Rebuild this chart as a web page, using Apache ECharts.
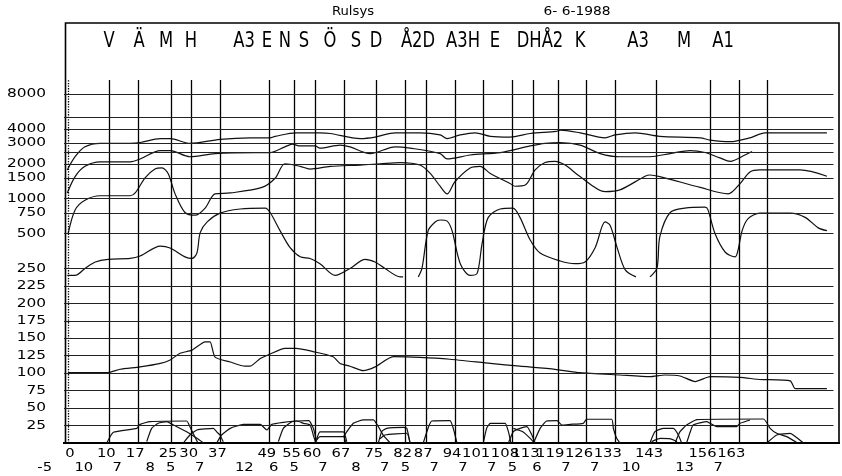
<!DOCTYPE html>
<html>
<head>
<meta charset="utf-8">
<script src="https://cdn.jsdelivr.net/npm/echarts@6/dist/echarts.min.js"></script>
<style>html,body{margin:0;padding:0;background:#fff}#main{width:842px;height:476px}</style>
</head>
<body>
<div id="main"></div>
<script>
// stationsnamn i huvudet
var stations = ['V','Ä','M','H','A3','E','N','S','Ö','S','D','Å2D','A3H','E','DHÅ2','K','A3','M','A1'];
var stationPx = [109,139,166,191,244,267,285,304,330,356,376,418,463,495,540,580,638,684,723];

// lodräta linjer (tid) och tidsskillnad under
var xTicks = [0,10,17,25,30,37,49,55,60,67,75,82,87,94,101,108,113,119,126,133,143,156,163,170];
var xTickLabels = ['0','10','17','25','30','37','49','55','60','67','75','82','87','94','101','108','113','119','126','133','143','156','163',''];
var durations = ['-5','10','7','8','5','7','12','6','5','7','8','7','5','7','7','7','5','6','7','7','10','13','7',''];

// vågräta linjer
var yGrid = [25,50,75,100,125,150,175,200,225,250,500,750,1000,1500,2000,2500,3000,4000,5000,8000];
var yLabels = ['25','50','75','100','125','150','175','200','225','250','500','750','1000','1500','2000','','3000','4000','','8000'];

// kurvor [tid, värde]
var curveA = [[
  [-0.2,1770],[1.7,2300],[4.1,2800],[7.8,3000],[15.1,3000],[17.5,3050],[22.4,3300],[24.8,3300],[29.6,3000],
  [36.9,3250],[44.2,3350],[49.1,3350],[50.3,3450],[55.4,3700],[61.2,3700],[63.7,3650],[71,3300],[74.6,3400],
  [79.5,3700],[85.5,3700],[90.4,3550],[92.1,3300],[95.3,3550],[98.9,3700],[102.6,3450],[107.4,3400],[112.3,3650],
  [118.6,3800],[119.6,3900],[124.4,3700],[130.5,3350],[132.9,3550],[137.8,3700],[143.8,3450],[153.6,3350],
  [156,3200],[160.9,3100],[165.7,3350],[169.4,3700],[175.5,3700],[184.4,3700]
]];
var curveB = [[
  [-0.2,1120],[1.7,1550],[4.1,1900],[7.8,2080],[15.1,2080],[17.5,2200],[22.4,2600],[24.8,2600],[29.6,2300],
  [35.7,2450],[45.4,2500],[49.1,2500],[52.7,2800],[54.5,2950],[56.4,2850],[60,2850],[61.2,2730],[66.1,2900],
  [68.5,2800],[73.4,2450],[79.5,2800],[83.1,2730],[90.4,2450],[92.1,2200],[97.7,2380],[105,2500],[112.3,2850],
  [115.9,3000],[119.6,3050],[124.4,2900],[129.3,2450],[134.1,2300],[141.4,2300],[146.3,2450],[151.2,2600],
  [154.8,2500],[158.4,2250],[160.9,2100],[164.5,2380],[166.2,2550]
]];
var curveC = [[
  [0,500],[1.7,800],[4.1,970],[7.8,1060],[15.1,1060],[16.3,1120],[18.7,1510],[21.1,1800],[22.8,1840],[24.3,1650],
  [26,1100],[28.4,760],[30.9,720],[33.3,830],[35.7,1100],[39.4,1120],[47.1,1250],[50.3,1500],[52.7,2000],
  [56.4,1900],[58.8,1800],[63.7,1900],[71,1950],[75.8,2000],[80.7,2050],[85.5,1950],[88,1650],[90.4,1280],
  [92.1,1100],[94,1400],[97.7,1840],[100.1,1900],[102.6,1650],[107.4,1350],[108.6,1280],[111.1,1310],
  [113.5,1770],[115.9,2050],[118.3,2100],[120.8,1950],[124.4,1550],[130.5,1150],[134.1,1190],[140.2,1560],
  [141.4,1600],[143.8,1550],[153.6,1250],[160.4,1100],[163.3,1350],[165.7,1700],[168.1,1770],[177.9,1770],[184.4,1560]
]];
var curveD = [[
  [-0.2,240],[1.7,240],[4.1,250],[6.6,284],[9.7,300],[15.1,305],[17.5,320],[22.4,390],[24.8,375],[28.4,315],
  [30.1,305],[31.3,340],[32.1,510],[33.8,630],[36.9,750],[41.8,815],[47.9,830],[49.1,760],[51.5,530],[53.9,380],
  [56.4,315],[58.8,305],[61.2,275],[64.9,240],[68.5,250],[72.2,300],[74.6,284],[77,250],[80.7,238],[81.4,238]
],[
  [85.1,238],[86,252],[87.5,530],[89.2,630],[90.4,655],[92.1,640],[93.3,530],[95.3,275],[97.7,240],[99.4,243],
  [100.6,410],[102.1,690],[105,815],[108.1,830],[109.8,690],[112.3,440],[114.7,340],[119.6,290],[123.2,275],
  [125.6,284],[128.1,380],[130.5,630],[131.7,590],[133.4,380],[135.4,248],[138,238]
],[
  [141.4,238],[143.1,252],[143.8,470],[146.3,760],[149.9,830],[154.8,845],[155.5,800],[157.2,500],[159.7,345],
  [162.1,315],[162.8,360],[163.8,530],[165.2,670],[168.1,750],[175.5,750],[179.1,690],[182.3,560],[184.4,530]
]];
var curveE = [[
  [0,101],[9.7,101],[12.6,105.6],[17.5,109],[22.4,114],[24.8,119],[27.2,128.5],[30.1,133],[33.3,145],[34.5,145],
  [35.7,123],[39.4,116],[43,110],[44.2,110],[46.7,121],[49.1,127.5],[52.7,135.6],[55.4,135.6],[59.5,131],
  [64.4,123.6],[66.1,114],[68.5,110],[71.7,103.6],[74.6,109],[79,123.6],[85.5,122.7],[92.8,120],[102.6,114],
  [109.8,110],[118.3,105.6],[124.4,100.7],[134.1,97.4],[141.4,95],[145,97.4],[148.7,96],[152.4,88],[156,95],
  [163.3,94],[168.1,91],[175.5,89],[176.7,78],[184.4,78]
]];
var botA = [
  [[9.4,0],[11,15.3],[16.7,21],[17.5,26.7],[19.9,30.6],[28.8,31.5],[29.6,23.4],[31.3,2.9],[31.6,0]],
  [[36.1,0],[37.3,11.5],[39.4,21],[42.6,26.7],[46.7,26.7],[48.3,18.6],[49.5,26.7],[52.3,29.6],[55.6,31.5],[58.5,32],[59.6,21],[60.4,2]],
  [[60.4,5],[61.2,16],[66.9,16],[67.7,2]],
  [[66.9,9],[69.3,28.2],[71.8,33],[74.2,33],[75.4,23.4],[76.6,11],[78.3,0]],
  [[86.3,0],[87.6,23.4],[88.4,31.5],[92.8,32],[93.6,21],[94.5,0]],
  [[100.9,0],[101.7,21],[102.6,28.2],[106.2,28.2],[107,16.2],[107.6,0]],
  [[113.1,0],[114.7,21],[116.3,31.5],[118.8,32],[120,25.8],[122,26.7],[125.2,28.2],[126,34],[132.1,34],[132.5,21],[133.3,6.7],[134.1,0]],
  [[147.5,0],[148.7,16.2],[150.3,25.8],[152.8,33.5],[169,34.4],[170.6,21],[172.2,13.9],[174.6,9.1],[177,1]]
];
var botB = [
  [[19.1,1.9],[20.3,21],[21.9,28.2],[24,30.6],[25.6,25.8],[26.4,23.4],[28.8,16.2],[31.3,6.7],[32.9,0]],
  [[28,0],[29.6,11.5],[31.3,18.6],[35.3,21],[36.1,16],[36.9,11.5],[37.7,1.9]],
  [[51.1,1.9],[52.3,21],[54.4,30.6],[55.6,31.5],[57.2,28.2],[58.8,25.8],[59.6,11],[60.2,0]],
  [[60.4,4],[61.2,9],[66.9,9],[67.5,0]],
  [[75.4,0],[76.2,16.2],[77.4,21],[81.5,22.4],[82.3,21],[83.1,0]],
  [[75.8,6],[77,11.5],[82.3,14],[83.1,0]],
  [[107,0],[108.2,16.2],[109.8,21],[111.5,23.4],[112.7,11.5],[113.5,0]],
  [[108.2,21],[110.5,16.2],[112.3,6.7],[113.3,0]],
  [[141.4,0],[142.6,16.2],[144.7,21],[147.1,21],[148.3,11.5],[149.1,0]],
  [[141.8,2],[143.9,6.7],[146.4,6],[148,2]],
  [[150.3,0],[151.2,16.2],[151.9,25.8],[155.2,30.6],[156,28.2],[157.6,23.4],[162.5,23.4],[163.3,28.2],[165.7,33]],
  [[169.8,0],[172.2,11.5],[175.4,13.9],[178.7,0]]
];

// linjär upp till 250, därefter logaritmisk (2 rutor per fördubbling)
function yT(v) {
  if (v <= 250) return v / 25;
  return 10 + 2 * Math.log(v / 250) / Math.LN2;
}

var chart = echarts.init(document.getElementById('main'));
var series = [];

function addCurve(segs, smooth) {
  segs.forEach(function (s) {
    series.push({
      type: 'line', silent: true, animation: false, showSymbol: false,
      smooth: smooth, lineStyle: { color: '#111', width: 1.2 },
      data: s.map(function (p) { return [p[0], yT(p[1])]; })
    });
  });
}
addCurve(curveA, 0.3);
addCurve(curveB, 0.3);
addCurve(curveC, 0.3);
addCurve(curveD, 0.3);
addCurve(curveE, 0.2);
addCurve(botA, 0.15);
addCurve(botB, 0.15);

var gridLines = [];
xTicks.forEach(function (t) {
  gridLines.push({ xAxis: t, lineStyle: { color: '#000', width: 1.3, type: t === 0 ? 'dotted' : 'solid' } });
});
yGrid.forEach(function (v) {
  gridLines.push({ yAxis: yT(v), lineStyle: { color: '#222', width: 1.2, type: 'solid' } });
});
series[0].markLine = {
  silent: true, animation: false, symbol: ['none', 'none'],
  label: { show: false }, data: gridLines
};

var option = {
  backgroundColor: '#fff',
  animation: false,
  grid: { left: 64, top: 80, width: 769.5, height: 363 },
  xAxis: { type: 'value', min: -1, max: 186, show: false },
  yAxis: { type: 'value', min: 0, max: 20.8, show: false },
  series: series
};
chart.setOption(option);

// ram, texter
var font = 'DejaVu Sans';
function txt(s, x, y, size, sx, align) {
  return {
    type: 'text', x: x, y: y, scaleX: sx, silent: true,
    style: { text: s, fontSize: size, fontFamily: font, fill: '#000',
      align: align, textAlign: align, verticalAlign: 'middle', textVerticalAlign: 'middle' }
  };
}
var g = [];
g.push({ type: 'polyline', silent: true, shape: { points: [[65.5, 443], [65.5, 23], [839, 23], [839, 443]] },
  style: { stroke: '#000', lineWidth: 1.6, fill: null } });
g.push({ type: 'line', silent: true, shape: { x1: 63, y1: 443, x2: 840, y2: 443 }, style: { stroke: '#000', lineWidth: 2 } });

g.push(txt('Rulsys', 353, 12, 12, 1.1, 'center'));
g.push(txt('6- 6-1988', 577, 12, 12, 1.15, 'center'));
stations.forEach(function (s, i) { g.push(txt(s, stationPx[i], 42, 21, 0.78, 'center')); });

yGrid.forEach(function (v, i) {
  if (!yLabels[i]) return;
  var py = chart.convertToPixel({ yAxisIndex: 0 }, yT(v));
  g.push(txt(yLabels[i], 46, py, 12, 1.28, 'right'));
});
xTicks.forEach(function (t, i) {
  var px = chart.convertToPixel({ xAxisIndex: 0 }, t);
  if (xTickLabels[i]) g.push(txt(xTickLabels[i], px + 6.5, 453.5, 12, 1.23, 'right'));
  if (durations[i]) {
    var pd = chart.convertToPixel({ xAxisIndex: 0 }, t - 5);
    g.push(txt(durations[i], pd + 4.5, 468, 12, 1.23, 'right'));
  }
});
chart.setOption({ graphic: { elements: g } });
</script>
</body>
</html>
